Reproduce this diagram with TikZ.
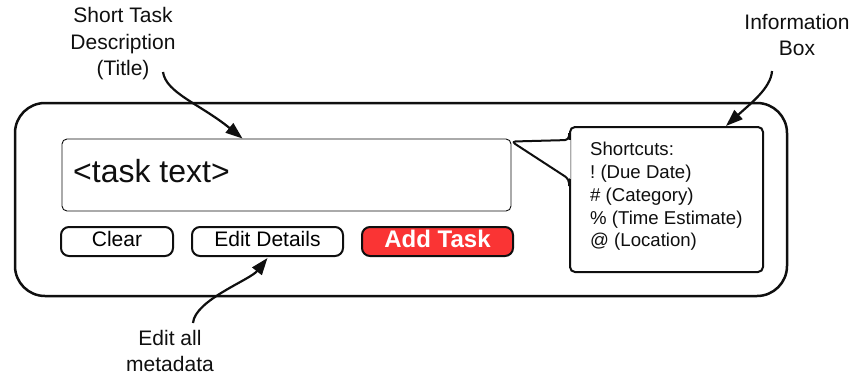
\documentclass[tikz,border=0pt]{standalone}
\usepackage{fontspec}
\setmainfont{Liberation Sans}
\usetikzlibrary{arrows.meta,calc}
\definecolor{addred}{RGB}{250,52,52}
\definecolor{ink}{RGB}{15,15,15}
\frenchspacing
\begin{document}
\begin{tikzpicture}[x=1pt,y=-1pt,
  panel/.style={draw=ink,line width=2.5pt,rounded corners=30pt,inner sep=0pt,minimum width=772pt,minimum height=193pt},
  taskbox/.style={draw=ink,line width=0.9pt,rounded corners=5pt,inner sep=0pt,minimum width=449pt,minimum height=72pt},
  btn/.style={draw=ink,line width=2pt,rounded corners=8pt,inner sep=0pt,minimum height=29pt,text height=15pt,text depth=5pt,font=\fontsize{21}{25}\selectfont},
  addbtn/.style={btn,fill=addred,text=white,font=\fontsize{24}{28}\selectfont\bfseries,text height=17pt,text depth=5pt},
  infobox/.style={draw=ink,line width=2pt,rounded corners=5pt,fill=white,minimum width=193pt,minimum height=145pt,inner sep=0pt},
  infotext/.style={align=left,inner sep=0pt,anchor=north west,font=\fontsize{18.6}{22.8}\selectfont,text=ink},
  note/.style={align=center,inner sep=0pt,font=\fontsize{21}{26.5}\selectfont,text=ink},
  callarrow/.style={draw=ink,line width=2.2pt,-{Triangle[length=17pt,width=12pt]}}
]
\useasboundingbox (0,0) rectangle (857,375);

% main panel
\node[panel] (panel) at (401,199.5) {};

% task text field
\node[taskbox] (task) at (286.5,175) {};
\node[anchor=base west,inner sep=0pt,font=\fontsize{32}{36}\selectfont,text=ink] (tasktext) at (73,182) {<task text>};

% buttons
\node[btn,minimum width=112pt] (clear) at (117,241.5) {Clear};
\node[btn,minimum width=151pt] (edit) at (267.5,241.5) {Edit Details};
\node[addbtn,minimum width=151pt] (add) at (437.5,241.5) {Add Task};

% information box with callout pointer
\node[infobox] (info) at (666.5,199.5) {};
\coordinate (tip) at ($(task.north east)+(0,3)$);
\coordinate (ptop) at ($(info.north west)+(0,14)$);
\coordinate (pbot) at ($(info.north west)+(0,53)$);
\fill[white] ($(ptop)+(1.5,0)$) -- (tip) -- ($(pbot)+(1.5,0)$) -- cycle;
\draw[ink,line width=2pt,line join=round,rounded corners=4pt] ($(ptop)+(0,-7)$) -- (ptop) -- (tip) -- (pbot) -- ($(pbot)+(0,7)$);
\node[infotext] (shortcuts) at ($(info.north west)+(21,16)$) {Shortcuts:\\! (Due Date)\\\# (Category)\\\% (Time Estimate)\\@ (Location)};

% annotations
\node[note] (title) at (123,44) {Short Task\\Description\\(Title)};
\node[note] (infolabel) at (797,35) {Information\\Box};
\node[note] (editlabel) at (170,351) {Edit all\\metadata};

\coordinate (titlefrom) at (163,72);
\coordinate (infofrom) at (772,71);
\coordinate (editfrom) at (193,323);

\draw[callarrow] (titlefrom) .. controls (166,93) and (200,104) .. ($(task.north west)+(181,0)$);
\draw[callarrow] (infofrom) .. controls (771,88) and (750,104) .. ($(info.north west)+(157,0)$);
\draw[callarrow] (editfrom) .. controls (195,300) and (250,280) .. ($(edit.south)+(0,1)$);
\end{tikzpicture}
\end{document}
